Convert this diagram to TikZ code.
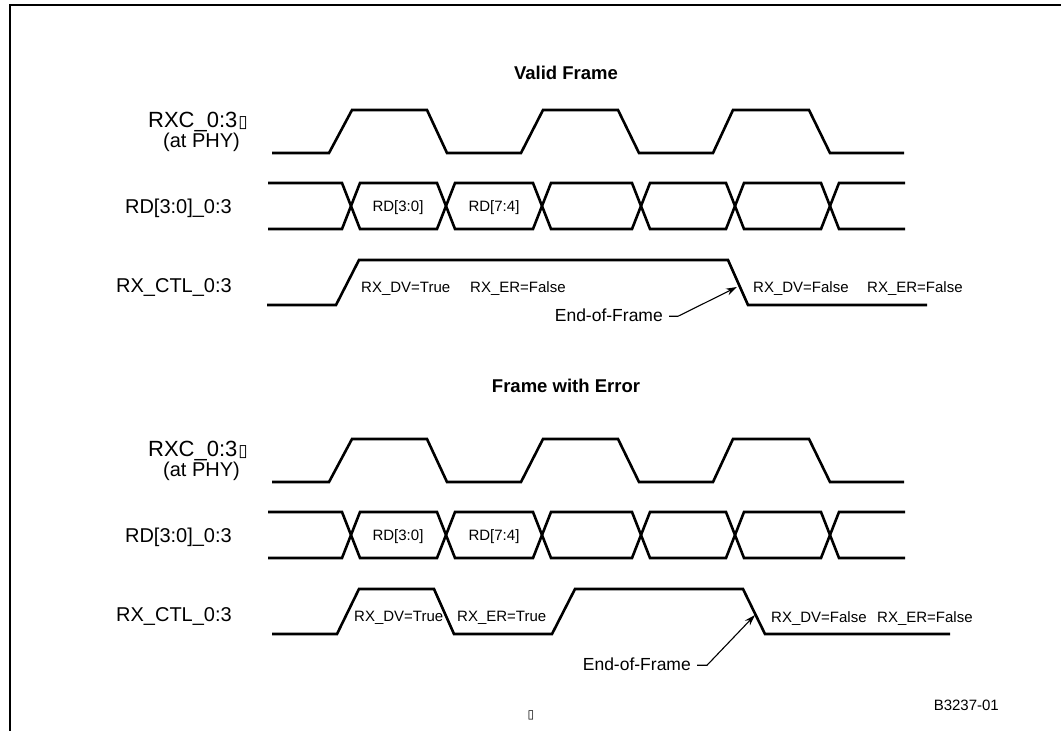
\documentclass[tikz,border=0pt]{standalone}
\usepackage{fontspec}
\setmainfont{Liberation Sans}
\newfontfamily\boxfont{DejaVu Sans}
\usetikzlibrary{arrows.meta}
\begin{document}
\begin{tikzpicture}[x=1pt,y=-1pt,
  wave/.style={line width=2.6pt, line join=miter},
  frameline/.style={line width=2.6pt, line join=miter},
  biglabel/.style={font=\fontsize{20}{23}\selectfont, anchor=base east, inner sep=0pt},
  smalltext/.style={font=\fontsize{15}{18}\selectfont, inner sep=0pt},
  titletext/.style={font=\bfseries\fontsize{18.5}{21}\selectfont, inner sep=0pt, anchor=base},
  eoftext/.style={font=\fontsize{17.5}{20}\selectfont, inner sep=0pt, anchor=base east},
  leader/.style={line width=1.1pt, -{Stealth[length=11pt,width=7pt]}},
]
\useasboundingbox (0,0) rectangle (1061,731);
\fill[white] (0,0) rectangle (1061,731);
\draw[frameline] (1061,5) -- (10,5) -- (10,731);

% titles
\node[titletext] (titleA) at (566,79.5) {Valid Frame};
\node[titletext] (titleB) at (566,392) {Frame with Error};

% common rows
\foreach \o/\s in {0/a,329/b}{
  \begin{scope}[shift={(0,\o)}]
    \node[biglabel, font=\fontsize{22}{24}\selectfont] (rxc\s) at (248,127)
      {RXC\_0:3\hspace{1pt}{\boxfont\fontsize{17}{17}\selectfont ▯}};
    \node[biglabel] (phy\s) at (240,147) {(at PHY)};
    \node[biglabel] (rd\s) at (232,213) {RD[3:0]\_0:3};
    \node[biglabel] (ctl\s) at (232,292) {RX\_CTL\_0:3};
    % clock
    \draw[wave] (272,153) -- (329,153) -- (352,110) -- (427,110) -- (447,153)
      -- (521,153) -- (543,110) -- (618,110) -- (639,153)
      -- (713,153) -- (733,110) -- (809,110) -- (830,153) -- (904,153);
    % data bus
    \draw[wave] (268,183) -- (342,183) -- (360,229) -- (437,229) -- (455,183)
      -- (533,183) -- (551,229) -- (632,229) -- (650,183) -- (726,183)
      -- (744,229) -- (821,229) -- (839,183) -- (905,183);
    \draw[wave] (268,229) -- (342,229) -- (360,183) -- (437,183) -- (455,229)
      -- (533,229) -- (551,183) -- (632,183) -- (650,229) -- (726,229)
      -- (744,183) -- (821,183) -- (839,229) -- (905,229);
    \node[smalltext, anchor=base] (rdlo\s) at (398,211.5) {RD[3:0]};
    \node[smalltext, anchor=base] (rdhi\s) at (494,211.5) {RD[7:4]};
  \end{scope}
}

% control, valid frame
\draw[wave] (267,305) -- (336,305) -- (359,260) -- (728,260) -- (748,305) -- (927,305);
\node[smalltext, anchor=base west] (dvA) at (361,292) {RX\_DV=True};
\node[smalltext, anchor=base west] (erA) at (470,292) {RX\_ER=False};
\node[smalltext, anchor=base west] (dvfA) at (753,292) {RX\_DV=False};
\node[smalltext, anchor=base west] (erfA) at (867,292) {RX\_ER=False};
\node[eoftext] (eofA) at (663,321) {End-of-Frame};
\coordinate (tipA) at (737,287);
\draw[leader] ([xshift=6pt,yshift=-1.5pt]eofA.east) -- ++(9,0) -- (tipA);

% control, frame with error
\draw[wave] (272,634) -- (337,634) -- (359,589) -- (434,589) -- (454,634)
  -- (552,634) -- (575,589) -- (743,589) -- (765,634) -- (950,634);
\node[smalltext, anchor=base west] (dvB) at (354,621) {RX\_DV=True};
\node[smalltext, anchor=base west] (erB) at (457,621) {RX\_ER=True};
\node[smalltext, anchor=base west] (dvfB) at (771,622) {RX\_DV=False};
\node[smalltext, anchor=base west] (erfB) at (877,622) {RX\_ER=False};
\node[eoftext] (eofB) at (691,670) {End-of-Frame};
\coordinate (tipB) at (755,615);
\draw[leader] ([xshift=6pt,yshift=-1.5pt]eofB.east) -- ++(10,0) -- (tipB);

% figure id and stray glyph
\node[smalltext, anchor=base east] (figid) at (999,710) {B3237-01};
\node[inner sep=0pt, font=\boxfont\fontsize{12}{12}\selectfont] (stray) at (531,715) {▯};
\end{tikzpicture}
\end{document}
